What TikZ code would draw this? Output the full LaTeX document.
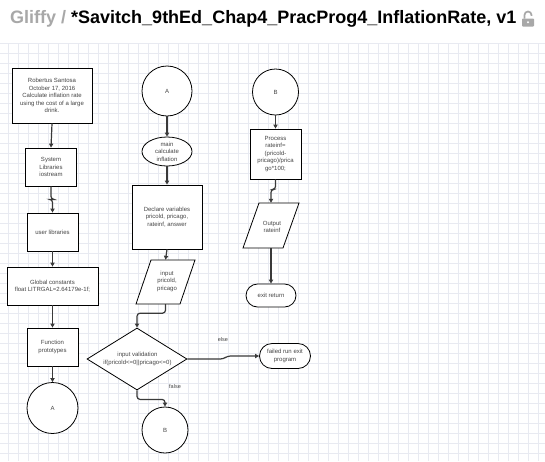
\documentclass[tikz,border=0pt]{standalone}
\usepackage{fontspec}
\setmainfont{Liberation Sans}
\usetikzlibrary{shapes.geometric,arrows.meta}
\definecolor{gridc}{HTML}{E8EAF1}
\definecolor{txt}{HTML}{454545}
\definecolor{conn}{HTML}{3A3A3A}
\definecolor{gliffy}{HTML}{A8A8A8}
\begin{document}
\begin{tikzpicture}[x=1pt,y=-1pt,
  every node/.style={font=\fontsize{6}{7.5}\selectfont, text=txt, align=center, inner sep=0pt},
  box/.style 2 args={draw=black, line width=0.8pt, fill=white, minimum width=#1, minimum height=#2},
  circ/.style={circle, draw=black, line width=0.8pt, fill=white, minimum size=#1},
  term/.style 2 args={rectangle, rounded corners=#2/2, draw=black, line width=0.8pt, fill=white, minimum width=#1, minimum height=#2},
  outline/.style={draw=black, line width=0.8pt, fill=white, line join=miter},
  link/.style={draw=conn, line width=1.2pt, rounded corners=3pt, -{Triangle[length=4pt,width=4.2pt]}},
  lbl/.style={font=\fontsize{5.5}{6.5}\selectfont, text=txt}
]
\useasboundingbox (0,0) rectangle (545,461);
\fill[white] (0,0) rectangle (545,461);
% grid
\foreach \gx in {8,18,...,545} \draw[gridc, line width=0.5pt] (\gx,43) -- (\gx,461);
\foreach \gy in {43,53,...,461} \draw[gridc, line width=0.5pt] (0,\gy) -- (545,\gy);

% title
\node[anchor=base west, font=\fontsize{18}{20}\selectfont\bfseries, inner sep=0pt] (title) at (10,23)
  {\textcolor{gliffy}{Gliffy /} \textcolor{black}{*Savitch\_9thEd\_Chap4\_PracProg4\_InflationRate, v1}};
% lock icon
\fill[gliffy, rounded corners=0.8pt] (522,18.5) rectangle (534,26.5);
\fill[white] (528,22.3) circle (1.1);
\draw[gliffy, line width=1.7pt] (524.5,18.5) -- (524.5,15) arc[start angle=180, end angle=360, radius=3.5] -- (531.5,15.8);

% left column
\node[box={80}{55}] (hdr) at (52,95.5) {Robertus Santosa\\October 17, 2016\\Calculate inflation rate\\using the cost of a large\\drink.};
\node[box={51}{38}] (sys) at (51,167) {System\\Libraries\\iostream};
\node[box={51}{38}] (ulib) at (52.5,232) {user libraries};
\node[box={91}{38}] (glob) at (52.5,286) {Global constants\\float LITRGAL=2.64179e-1f;};
\node[box={51}{38}] (func) at (52.5,347) {Function\\prototypes};
\node[circ=51] (cA1) at (52.5,408) {A};

% middle column
\node[circ=50] (cA2) at (167,91) {A};
\node[ellipse, draw=black, line width=0.8pt, fill=white, minimum width=50, minimum height=29] (main) at (167,151.5) {};
\node (maintxt) at (main.center) {main\\calculate\\inflation};
\node[box={70}{64}] (decl) at (167,217) {Declare variables\\pricold, pricago,\\rateinf, answer};
% input parallelogram
\coordinate (inpc) at (165.5,282);
\draw[outline] ([shift={(-14.5,-22)}]inpc) -- ([shift={(29.5,-22)}]inpc) -- ([shift={(14.5,22)}]inpc) -- ([shift={(-29.5,22)}]inpc) -- cycle;
\node[minimum width=44, minimum height=44] (inp) at (inpc) {};
\node (inptxt) at (167,281) {input\\pricold,\\pricago};
\node[diamond, draw=black, line width=0.8pt, fill=white, minimum width=100, minimum height=62] (dia) at (137,359) {};
\node (diatxt) at (137.5,359) {input validation\\if(pricold<=0||pricago<=0)};
\node[circ=46] (cB2) at (165,430) {B};
\node[term={51}{25}] (fail) at (285,356) {failed run exit\\program};

% right column
\node[circ=46] (cB1) at (275.5,92) {B};
\node[box={51}{50}] (proc) at (275.5,154) {Process\\rateinf=\\(pricold-\\pricago)/prica\\go*100;};
% output parallelogram
\coordinate (outc) at (271,225.5);
\draw[outline] ([shift={(-12,-22.5)}]outc) -- ([shift={(28,-22.5)}]outc) -- ([shift={(12,22.5)}]outc) -- ([shift={(-28,22.5)}]outc) -- cycle;
\node[minimum width=40, minimum height=45] (outp) at (outc) {};
\node (outptxt) at (272,227) {Output\\rateinf};
\node[term={50}{23}] (exitn) at (271,295.5) {exit return};

% connectors
\draw[link] (hdr.south) -- (sys.north);
\draw[link] (sys.south) -- ++(0,13) -| (ulib.north);
\draw[link] (ulib.south) -- (glob.north);
\draw[link] (glob.south) -- (func.north);
\draw[link] (func.south) -- (cA1.north);

\draw[link] (cA2.south) -- (main.north);
\draw[link] (main.south) -- (decl.north);
\draw[link] (decl.south) -- (inp.north);
\draw[link] (inp.south) -- ++(0,9) -| (dia.north);
\draw[link] (dia.south) -- ++(0,9) -| (cB2.north);
\draw[link] (dia.east) -- ++(36,0) -- ++(4,-3) -- (fail.west);

\draw[link] (cB1.south) -- (proc.north);
\draw[link] (proc.south) -- ++(0,10) -| (outp.north);
\draw[link] (outp.south) -- (exitn.north);

\node[lbl] (elsel) at (223,340) {else};
\node[lbl] (falsel) at (175,387) {false};
\end{tikzpicture}
\end{document}
